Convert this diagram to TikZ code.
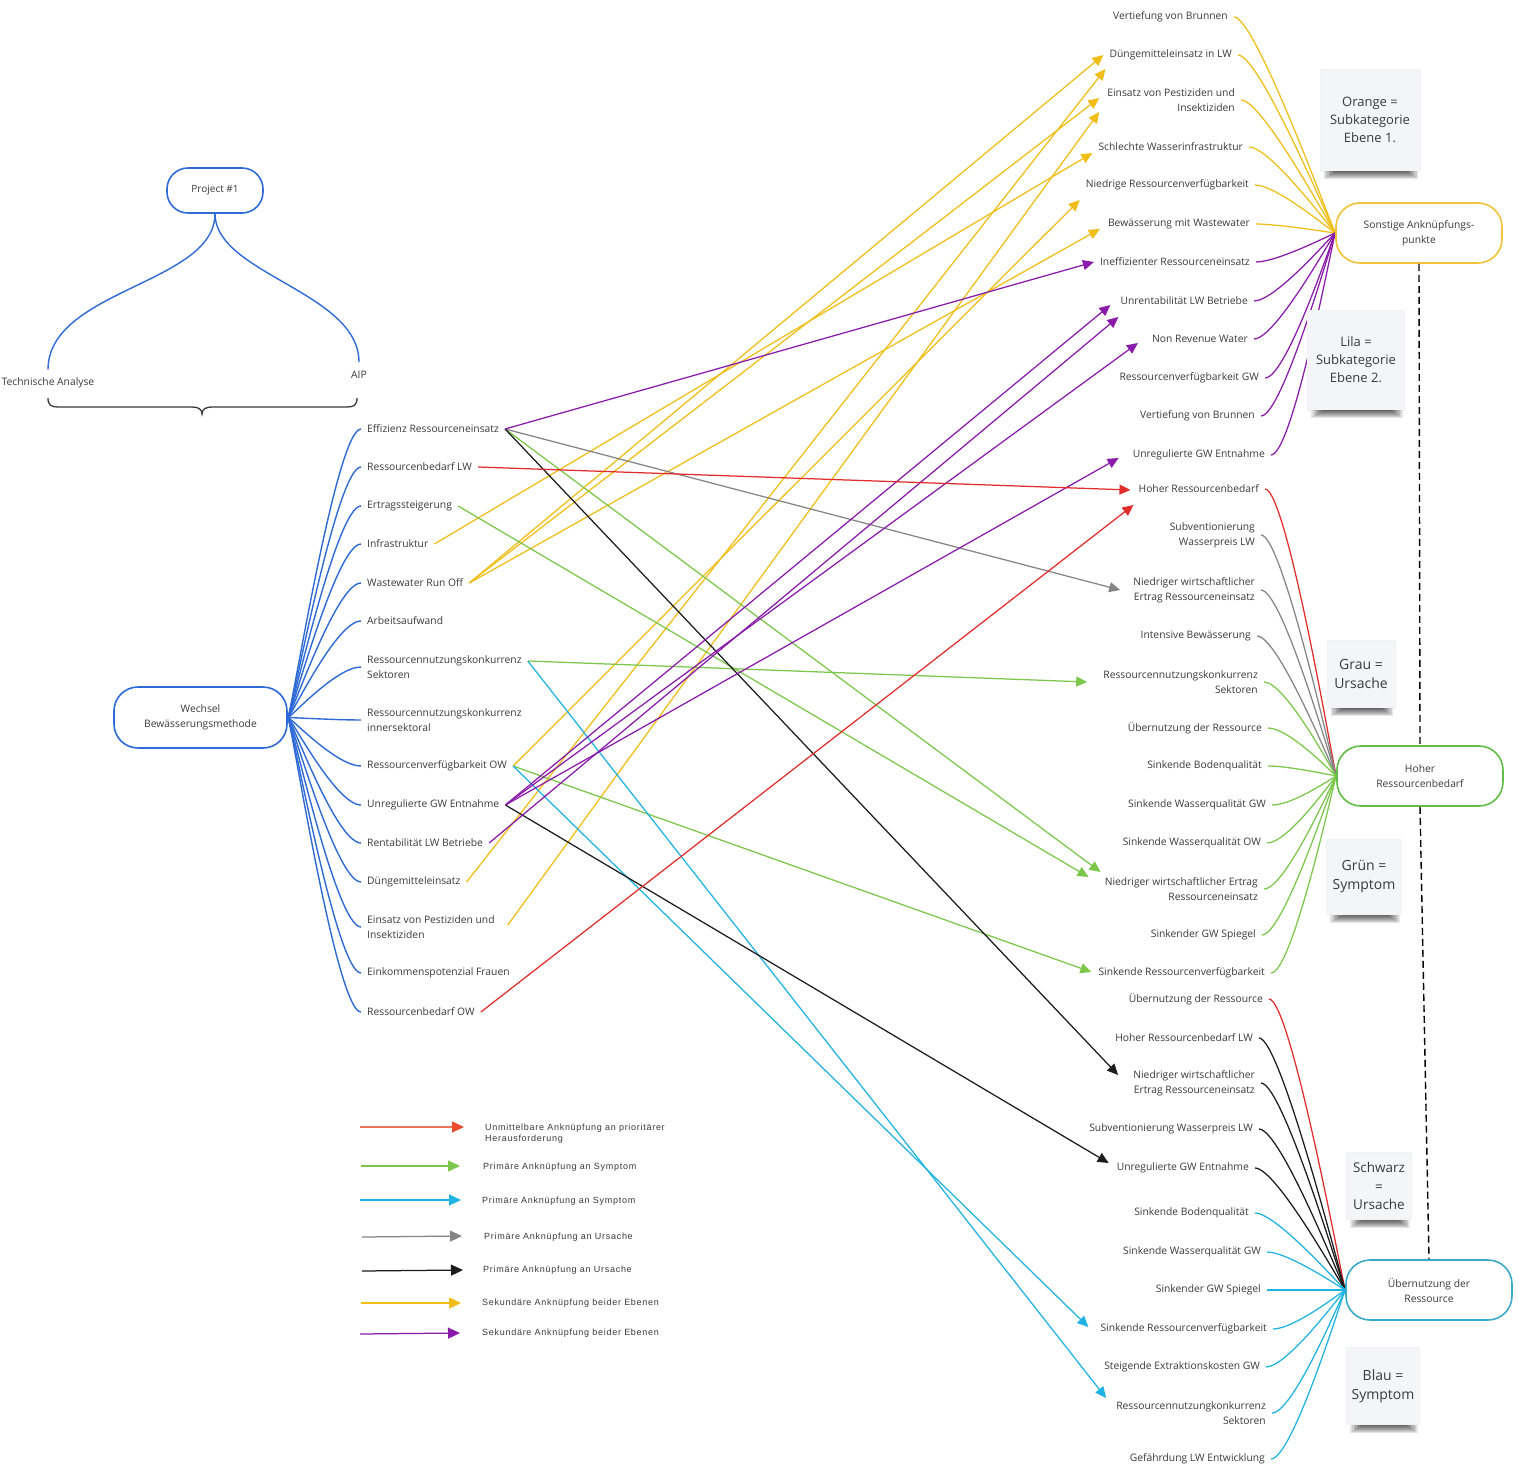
\documentclass[tikz,border=0pt]{standalone}
\usepackage{fontspec}
\setmainfont{Open Sans}
\newfontfamily\legendfont[LetterSpace=8]{Liberation Sans}
\usetikzlibrary{arrows.meta}

\definecolor{txt}{HTML}{3A3A3A}
\definecolor{treeblue}{HTML}{2F6BD6}
\definecolor{cyellow}{HTML}{F0BE16}
\definecolor{cpurple}{HTML}{8A1BAA}
\definecolor{cred}{HTML}{E32D2D}
\definecolor{cgrey}{HTML}{858585}
\definecolor{cblack}{HTML}{1C1C1C}
\definecolor{cgreen}{HTML}{7CC74A}
\definecolor{ccyan}{HTML}{1FB3E3}
\definecolor{borange}{HTML}{F2C33A}
\definecolor{bgreen}{HTML}{62BD44}
\definecolor{bcyan}{HTML}{3AAAC9}
\definecolor{notefill}{HTML}{F3F5F8}
\definecolor{lgred}{HTML}{E9735E}
\definecolor{lgredtip}{HTML}{EA4B2C}

\begin{document}
\begin{tikzpicture}[x=1pt,y=-1pt,
  lbl/.style={font=\fontsize{10.3}{15}\selectfont, text=txt, inner xsep=6pt, inner ysep=1pt},
  lft/.style={lbl, anchor=west, align=left},
  rgt/.style={lbl, anchor=east, align=right},
  hub/.style={draw, fill=white, line width=1.6pt, rounded corners=24pt,
    minimum width=166pt, minimum height=60pt, align=center,
    font=\fontsize{10.3}{15}\selectfont, text=txt},
  tree/.style={treeblue, line width=1.4pt},
  fan/.style={line width=1.25pt},
  link/.style={line width=1.25pt, -{Triangle[length=11pt,width=10pt]}},
  note/.style={fill=notefill, draw=black!5, align=center, text=txt, inner sep=0pt},
  legtext/.style={font=\legendfont\fontsize{9}{11.5}\selectfont, text=txt,
    anchor=west, align=left, inner sep=0pt},
  legarrow/.style={line width=1.25pt},
  dashline/.style={line width=1.4pt, dash pattern=on 7pt off 4pt}
]
\useasboundingbox (0,0) rectangle (1519,1477);
\fill[white] (0,0) rectangle (1519,1477);

% ---------- project tree ----------
\node[hub, draw=treeblue, minimum width=96pt, minimum height=45pt, rounded corners=21pt,
  font=\fontsize{10}{14}\selectfont] (proj) at (215,190.5) {Project \#1};
\node[lbl, inner sep=0pt] (tech) at (48,383) {Technische Analyse};
\node[lbl, inner sep=0pt] (aip) at (359,375) {AIP};
\draw[tree] (proj.south) .. controls +(0,70) and +(0,-80) .. ([yshift=8pt]tech.north);
\draw[tree] (proj.south) .. controls +(0,60) and +(0,-70) .. ([yshift=9pt]aip.north);
\draw[line width=1.3pt, txt] (48,398) .. controls (48,405) and (51,407) .. (58,407)
  -- (192,407) .. controls (198,407) and (202,409) .. (202,414)
  .. controls (202,409) and (206,407) .. (212,407) -- (347,407)
  .. controls (354,407) and (357,405) .. (357,398);

% ---------- left hub and its items ----------
\node[hub, draw=treeblue, minimum width=173pt, minimum height=61pt] (wech) at (200.5,717.5)
  {Wechsel\\Bewässerungsmethode};
\node[lft] (L1) at (361,429) {Effizienz Ressourceneinsatz};
\node[lft] (L2) at (361,467) {Ressourcenbedarf LW};
\node[lft] (L3) at (361,506) {Ertragssteigerung};
\node[lft] (L4) at (361,544) {Infrastruktur};
\node[lft] (L5) at (361,583) {Wastewater Run Off};
\node[lft] (L6) at (361,621) {Arbeitsaufwand};
\node[lft] (L7) at (361,667) {Ressourcennutzungskonkurrenz\\Sektoren};
\node[lft] (L8) at (361,720) {Ressourcennutzungskonkurrenz\\innersektoral};
\node[lft] (L9) at (361,766) {Ressourcenverfügbarkeit OW};
\node[lft] (L10) at (361,805) {Unregulierte GW Entnahme};
\node[lft] (L11) at (361,843) {Rentabilität LW Betriebe};
\node[lft] (L12) at (361,882) {Düngemitteleinsatz};
\node[lft] (L13) at (361,927) {Einsatz von Pestiziden und\\Insektiziden};
\node[lft] (L14) at (361,973) {Einkommenspotenzial Frauen};
\node[lft] (L15) at (361,1012) {Ressourcenbedarf OW};
\foreach \n in {L1,L2,L3,L4,L5,L6,L7,L8,L9,L10,L11,L12,L13,L14,L15}
  \draw[tree] (wech.east) .. controls +(3,0) and +(-25,0) .. (\n.west);

% ---------- right items ----------
\node[rgt] (O1) at (1234,17) {Vertiefung von Brunnen};
\node[rgt] (O2) at (1238,55) {Düngemitteleinsatz in LW};
\node[rgt] (O3) at (1241,100) {Einsatz von Pestiziden und\\Insektiziden};
\node[rgt] (O4) at (1249,147) {Schlechte Wasserinfrastruktur};
\node[rgt] (O5) at (1255,185) {Niedrige Ressourcenverfügbarkeit};
\node[rgt] (O6) at (1256,224) {Bewässerung mit Wastewater};
\node[rgt] (P1) at (1256,262) {Ineffizienter Ressourceneinsatz};
\node[rgt] (P2) at (1254,301) {Unrentabilität LW Betriebe};
\node[rgt] (P3) at (1254,339) {Non Revenue Water};
\node[rgt] (P4) at (1265,378) {Ressourcenverfügbarkeit GW};
\node[rgt] (P5) at (1261,416) {Vertiefung von Brunnen};
\node[rgt] (P6) at (1271,455) {Unregulierte GW Entnahme};
\node[rgt] (H1) at (1265,489) {Hoher Ressourcenbedarf};
\node[rgt] (H2) at (1261,535) {Subventionierung\\Wasserpreis LW};
\node[rgt] (H3) at (1261,590) {Niedriger wirtschaftlicher\\Ertrag Ressourceneinsatz};
\node[rgt] (H4) at (1257,636) {Intensive Bewässerung};
\node[rgt] (H5) at (1264,682) {Ressourcennutzungskonkurrenz\\Sektoren};
\node[rgt] (H6) at (1268,728) {Übernutzung der Ressource};
\node[rgt] (H7) at (1268,766) {Sinkende Bodenqualität};
\node[rgt] (H8) at (1272,805) {Sinkende Wasserqualität GW};
\node[rgt] (H9) at (1267,843) {Sinkende Wasserqualität OW};
\node[rgt] (H10) at (1264,889) {Niedriger wirtschaftlicher Ertrag\\Ressourceneinsatz};
\node[rgt] (H11) at (1262,935) {Sinkender GW Spiegel};
\node[rgt] (H12) at (1271,973) {Sinkende Ressourcenverfügbarkeit};
\node[rgt] (U1) at (1269,999) {Übernutzung der Ressource};
\node[rgt] (U2) at (1259,1038) {Hoher Ressourcenbedarf LW};
\node[rgt] (U3) at (1261,1083) {Niedriger wirtschaftlicher\\Ertrag Ressourceneinsatz};
\node[rgt] (U4) at (1259,1129) {Subventionierung Wasserpreis LW};
\node[rgt] (U5) at (1255,1168) {Unregulierte GW Entnahme};
\node[rgt] (U6) at (1255,1213) {Sinkende Bodenqualität};
\node[rgt] (U7) at (1267,1252) {Sinkende Wasserqualität GW};
\node[rgt] (U8) at (1267,1290) {Sinkender GW Spiegel};
\node[rgt] (U9) at (1273,1329) {Sinkende Ressourcenverfügbarkeit};
\node[rgt] (U10) at (1266,1367) {Steigende Extraktionskosten GW};
\node[rgt] (U11) at (1272,1413) {Ressourcennutzungkonkurrenz\\Sektoren};
\node[rgt] (U12) at (1271,1459) {Gefährdung LW Entwicklung};

% hub positions
\coordinate (sonstpos) at (1419,233);
\coordinate (hoherpos) at (1420,776);
\coordinate (uebpos) at (1429,1290);

% ---------- fans into the right hubs ----------
\node[inner sep=0pt] (sonstw) at (1336,233) {};
\node[inner sep=0pt] (hoherw) at (1337,776) {};
\node[inner sep=0pt] (uebw) at (1346,1290) {};
\tikzset{fanto/.style={to path={.. controls +(22,0) and +(-2,0) .. (\tikztotarget)}}}
\foreach \n in {O1,O2,O3,O4,O5,O6}
  \draw[fan, cyellow] (\n.east) to[fanto] (sonstw);
\foreach \n in {P1,P2,P3,P4,P5,P6}
  \draw[fan, cpurple] (\n.east) to[fanto] (sonstw);
\draw[fan, cred] (H1.east) to[fanto] (hoherw);
\foreach \n in {H2,H3,H4}
  \draw[fan, cgrey] (\n.east) to[fanto] (hoherw);
\foreach \n in {H5,H6,H7,H8,H9,H10,H11,H12}
  \draw[fan, cgreen] (\n.east) to[fanto] (hoherw);
\draw[fan, cred] (U1.east) to[fanto] (uebw);
\foreach \n in {U2,U3,U4,U5}
  \draw[fan, cblack] (\n.east) to[fanto] (uebw);
\foreach \n in {U6,U7,U8,U9,U10,U11,U12}
  \draw[fan, ccyan] (\n.east) to[fanto] (uebw);

% ---------- hubs on the right ----------
\node[hub, draw=borange] (sonst) at (sonstpos) {Sonstige Anknüpfungs-\\punkte};
\node[hub, draw=bgreen] (hoher) at (hoherpos) {Hoher\\Ressourcenbedarf};
\node[hub, draw=bcyan] (ueb) at (uebpos) {Übernutzung der\\Ressource};
\draw[dashline] (sonst.south) -- (hoher.north);
\draw[dashline] (hoher.south) -- (ueb.north);

% ---------- cross links ----------
\draw[link, cyellow] (L4.east) -- ([yshift=-6pt]O4.west);
\draw[link, cyellow] (L5.east) -- (O2.west);
\draw[link, cyellow] (L5.east) -- ([xshift=-2pt,yshift=2pt]O3.west);
\draw[link, cyellow] (L5.east) -- ([xshift=-2pt,yshift=-5pt]O6.west);
\draw[link, cyellow] (L9.east) -- ([yshift=-15pt]O5.west);
\draw[link, cyellow] (L12.east) -- ([xshift=2pt,yshift=-14pt]O2.west);
\draw[link, cyellow] ([xshift=7pt,yshift=2pt]L13.east) -- ([xshift=-2pt,yshift=-12pt]O3.west);
\draw[link, cgreen] (L1.east) -- ([xshift=2pt,yshift=17pt]H10.west);
\draw[link, cgreen] (L3.east) -- ([xshift=-10pt,yshift=12pt]H10.west);
\draw[link, cgreen] ([yshift=6pt]L7.east) -- ([xshift=-10pt]H5.west);
\draw[link, cgreen] (L9.east) -- ([xshift=-1pt,yshift=1pt]H12.west);
\draw[link, ccyan] ([yshift=6pt]L7.east) -- ([xshift=-4pt,yshift=15pt]U11.west);
\draw[link, ccyan] (L9.east) -- ([xshift=-6pt,yshift=2pt]U9.west);
\draw[link, cgrey] (L1.east) -- ([xshift=-7pt]H3.west);
\draw[link, cblack] (L1.east) -- ([xshift=-9pt,yshift=8pt]U3.west);
\draw[link, cblack] (L10.east) -- ([xshift=-2pt,yshift=5pt]U5.west);
\draw[link, cpurple] (L1.east) -- (P1.west);
\draw[link, cpurple] (L10.east) -- ([xshift=-4pt,yshift=-4pt]P2.west);
\draw[link, cpurple] (L10.east) -- ([xshift=-8pt,yshift=-4pt]P3.west);
\draw[link, cpurple] (L10.east) -- ([xshift=-8pt,yshift=-3pt]P6.west);
\draw[link, cpurple] (L11.east) -- ([xshift=4pt,yshift=-16pt]P2.west);
\draw[link, cred] (L2.east) -- ([xshift=-2pt,yshift=-1pt]H1.west);
\draw[link, cred] (L15.east) -- ([xshift=1pt,yshift=-16pt]H1.west);

% ---------- sticky notes ----------
\node[note, minimum width=100pt, minimum height=102pt, font=\fontsize{13}{18}\selectfont]
  (n1) at (1370,120) {Orange =\\Subkategorie\\Ebene 1.};
\node[note, minimum width=97pt, minimum height=100pt, font=\fontsize{13}{18}\selectfont]
  (n2) at (1356,360) {Lila =\\Subkategorie\\Ebene 2.};
\node[note, minimum width=68pt, minimum height=68pt, font=\fontsize{14}{19}\selectfont]
  (n3) at (1361,674) {Grau =\\Ursache};
\node[note, minimum width=75pt, minimum height=75pt, font=\fontsize{14}{19}\selectfont]
  (n4) at (1364,877) {Grün =\\Symptom};
\node[note, minimum width=65pt, minimum height=67pt, font=\fontsize{13.5}{18.5}\selectfont]
  (n5) at (1379,1186) {Schwarz\\=\\Ursache};
\node[note, minimum width=73pt, minimum height=77pt, font=\fontsize{14}{19}\selectfont]
  (n6) at (1383,1386) {Blau =\\Symptom};
% soft shadow under each note: stacked translucent strips, darkest at the edge
\foreach \n in {n1,n2,n3,n4,n5,n6}
  \foreach \k in {0,...,7} {
    \pgfmathsetmacro{\li}{4+1.6*\k}
    \pgfmathsetmacro{\ri}{2+1.6*\k}
    \pgfmathsetmacro{\dd}{8-\k}
    \fill[black, opacity=0.1]
      ([xshift=\li pt]\n.south west) rectangle ([xshift=-\ri pt, yshift=-\dd pt]\n.south east);
  }

% ---------- legend ----------
\coordinate (a1) at (360,1127); \coordinate (b1) at (464,1127);
\coordinate (a2) at (361,1166); \coordinate (b2) at (460,1166);
\coordinate (a3) at (360,1200); \coordinate (b3) at (461,1200);
\coordinate (a4) at (362,1237); \coordinate (b4) at (462,1236);
\coordinate (a5) at (362,1271); \coordinate (b5) at (463,1270);
\coordinate (a6) at (361,1303); \coordinate (b6) at (461,1303);
\coordinate (a7) at (360,1334); \coordinate (b7) at (460,1333);
\draw[legarrow, lgred, -{Triangle[length=12pt,width=11pt,color=lgredtip]}] (a1) -- (b1);
\draw[legarrow, cgreen, -{Triangle[length=12pt,width=11pt]}] (a2) -- (b2);
\draw[legarrow, ccyan, -{Triangle[length=12pt,width=11pt]}] (a3) -- (b3);
\draw[legarrow, cgrey, -{Triangle[length=12pt,width=11pt]}] (a4) -- (b4);
\draw[legarrow, cblack, -{Triangle[length=12pt,width=11pt]}] (a5) -- (b5);
\draw[legarrow, cyellow, -{Triangle[length=12pt,width=11pt]}] (a6) -- (b6);
\draw[legarrow, cpurple, -{Triangle[length=12pt,width=11pt]}] (a7) -- (b7);
\node[legtext] (t1) at (485,1133.5) {Unmittelbare Anknüpfung an prioritärer\\Herausforderung};
\node[legtext] (t2) at (483,1167) {Primäre Anknüpfung an Symptom};
\node[legtext] (t3) at (482,1201) {Primäre Anknüpfung an Symptom};
\node[legtext] (t4) at (484,1237) {Primäre Anknüpfung an Ursache};
\node[legtext] (t5) at (483,1270) {Primäre Anknüpfung an Ursache};
\node[legtext] (t6) at (482,1303) {Sekundäre Anknüpfung beider Ebenen};
\node[legtext] (t7) at (482,1333) {Sekundäre Anknüpfung beider Ebenen};
\end{tikzpicture}
\end{document}
